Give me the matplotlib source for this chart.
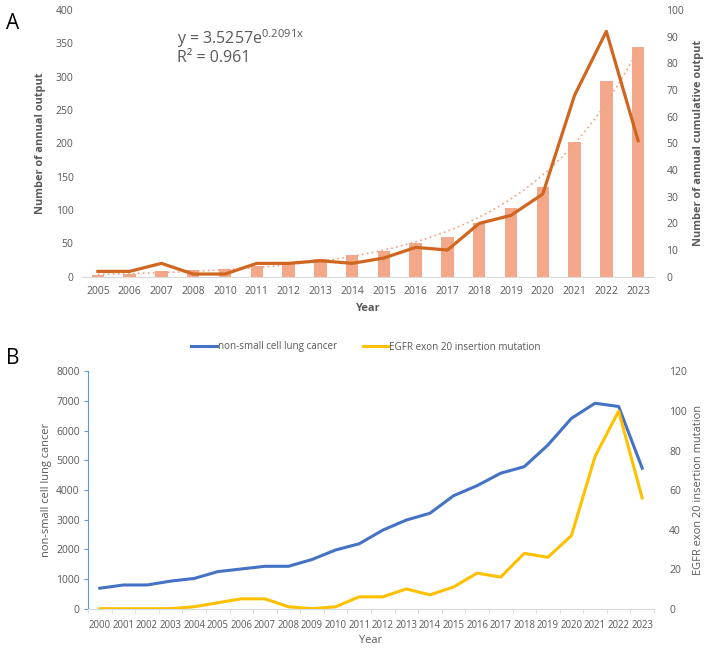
import numpy as np
import matplotlib
matplotlib.use("Agg")
import matplotlib.pyplot as plt
from matplotlib.ticker import FixedLocator, MultipleLocator
from matplotlib.lines import Line2D

plt.rcParams['font.family'] = ['Open Sans', 'DejaVu Sans']
plt.rcParams['mathtext.fontset'] = 'custom'
plt.rcParams['mathtext.rm'] = 'Open Sans'
plt.rcParams['mathtext.it'] = 'Open Sans'

# ---------------- Data: panel A ----------------
years_a = ["2005", "2006", "2007", "2008", "2010", "2011", "2012", "2013", "2014",
           "2015", "2016", "2017", "2018", "2019", "2020", "2021", "2022", "2023"]
cumulative_a = [2, 4, 9, 10, 11, 16, 21, 27, 32, 39, 50, 60, 80, 103, 134, 202, 294, 345]
annual_a = [2, 2, 5, 1, 1, 5, 5, 6, 5, 7, 11, 10, 20, 23, 31, 68, 92, 51]
equation_text = "y = 3.5257e$^{0.2091x}$"
r2_text = "R² = 0.961"

# ---------------- Data: panel B ----------------
years_b = [str(y) for y in range(2000, 2024)]
nsclc = [690, 800, 800, 930, 1020, 1250, 1340, 1430, 1430, 1660, 1980, 2190, 2650, 2990,
         3220, 3810, 4150, 4570, 4790, 5520, 6420, 6930, 6820, 4740]
egfr = [0, 0, 0, 0, 1, 3, 5, 5, 1, 0, 1, 6, 6, 10, 7, 11, 18, 16, 28, 26, 37, 77, 100, 56]

GRAY = "#595959"
AX_GRAY = "#D9D9D9"
BAR_C = "#F2A889"
LINE_C = "#D0661F"
TREND_C = "#F4A080"
BLUE = "#4472C4"
YELLOW = "#FFC000"
LBLUE = "#5B9BD5"

TICK_FS = 7.5
LAB_FS = 7.9

W, H = 708, 651
fig = plt.figure(figsize=(W / 100, H / 100), dpi=100)

def fx(px):
    return px / W

def fy(py):
    return 1 - py / H

# ================= Panel A =================
axA = fig.add_axes([fx(82), fy(276.7), fx(654) - fx(82), fy(10) - fy(276.7)])
xa = np.arange(len(years_a))
axA.bar(xa, cumulative_a, width=0.39, color=BAR_C, zorder=2)
# exponential trendline fitted to cumulative output
coef = np.polyfit(xa + 1, np.log(cumulative_a), 1)
xt = np.linspace(0, len(years_a) - 1, 200)
axA.plot(xt, np.exp(coef[1]) * np.exp(coef[0] * (xt + 1)), color=TREND_C,
         lw=1.2, linestyle=(0, (1, 2)), zorder=3)
axA.set_xlim(-0.5, len(years_a) - 0.5)
axA.set_ylim(0, 400)
axA.yaxis.set_major_locator(MultipleLocator(50))
axA.set_xticks(xa)
axA.set_xticklabels(years_a)
for s in ["top", "left", "right"]:
    axA.spines[s].set_visible(False)
axA.spines["bottom"].set_color(AX_GRAY)
axA.tick_params(axis="both", length=0, colors=GRAY, labelsize=TICK_FS)
axA.tick_params(axis="x", pad=7)
axA.tick_params(axis="y", pad=6)
axA.set_ylabel("Number of annual output", fontsize=LAB_FS, fontweight="bold",
               color=GRAY, labelpad=7)
axA.set_xlabel("Year", fontsize=LAB_FS, fontweight="bold", color=GRAY, labelpad=4)

axA2 = axA.twinx()
axA2.plot(xa, annual_a, color=LINE_C, lw=2.3, zorder=4, solid_joinstyle="round")
axA2.set_ylim(0, 100)
axA2.yaxis.set_major_locator(MultipleLocator(10))
for s in ["top", "left", "right", "bottom"]:
    axA2.spines[s].set_visible(False)
axA2.tick_params(axis="y", length=0, colors=GRAY, labelsize=TICK_FS, pad=9)
axA2.set_ylabel("Number of annual cumulative output", fontsize=LAB_FS,
                fontweight="bold", color=GRAY, labelpad=6)

fig.text(fx(177), fy(44), equation_text, fontsize=11.5, color=GRAY)
fig.text(fx(177), fy(62), r2_text, fontsize=11.5, color=GRAY)
fig.text(fx(6), fy(29), "A", fontsize=15, color="black")

# ================= Panel B =================
axB = fig.add_axes([fx(88), fy(608.7), fx(654) - fx(88), fy(371.5) - fy(608.7)])
xb = np.arange(len(years_b))
axB.plot(xb, nsclc, color=BLUE, lw=2.2, zorder=4)
axB.set_xlim(-0.5, len(years_b) - 0.5)
axB.set_ylim(0, 8000)
axB.yaxis.set_major_locator(MultipleLocator(1000))
axB.set_xticks(xb)
axB.set_xticklabels(years_b)
axB.xaxis.set_minor_locator(FixedLocator(np.arange(-0.5, len(years_b), 1.0)))
for s in ["top", "right"]:
    axB.spines[s].set_visible(False)
axB.spines["left"].set_color(LBLUE)
axB.spines["bottom"].set_color(AX_GRAY)
axB.tick_params(axis="x", which="major", length=0, colors=GRAY, labelsize=6.9, pad=8)
axB.tick_params(axis="x", which="minor", length=3, color=AX_GRAY, direction="out")
axB.tick_params(axis="y", length=3, color=LBLUE, labelcolor=GRAY, labelsize=TICK_FS,
                direction="out", pad=3)
axB.set_ylabel("non-small cell lung cancer", fontsize=LAB_FS, color=GRAY, labelpad=3)
axB.set_xlabel("Year", fontsize=LAB_FS, color=GRAY, labelpad=3)

axB2 = axB.twinx()
axB2.plot(xb, egfr, color=YELLOW, lw=2.2, zorder=3)
axB2.set_ylim(0, 120)
axB2.yaxis.set_major_locator(MultipleLocator(20))
for s in ["top", "left", "right", "bottom"]:
    axB2.spines[s].set_visible(False)
axB2.tick_params(axis="y", length=0, colors=GRAY, labelsize=TICK_FS, pad=11)
axB2.set_ylabel("EGFR exon 20 insertion mutation", fontsize=LAB_FS, color=GRAY, labelpad=4)

handles = [Line2D([], [], color=BLUE, lw=2.2), Line2D([], [], color=YELLOW, lw=2.2)]
fig.legend(handles, ["non-small cell lung cancer", "EGFR exon 20 insertion mutation"],
           loc="center", bbox_to_anchor=(fx(366), fy(347)), ncol=2, frameon=False,
           fontsize=7.1, labelcolor=GRAY, handlelength=2.6, handletextpad=0.1,
           columnspacing=2.6)
fig.text(fx(6), fy(364), "B", fontsize=15, color="black")

fig.savefig("out.png", dpi=100)
